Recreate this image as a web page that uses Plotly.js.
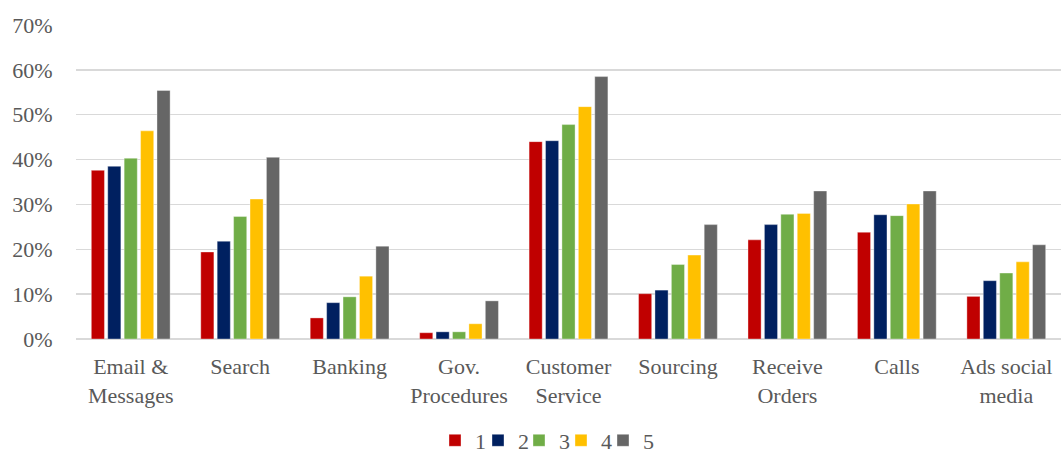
<!DOCTYPE html>
<html><head><meta charset="utf-8">
<script src="https://cdn.plot.ly/plotly-3.0.1.min.js"></script>
<style>html,body{margin:0;padding:0;background:#fff}#chart{width:1061px;height:454px}</style>
</head><body><div id="chart"></div>
<script>
const categories = ["Email &<br>Messages","Search","Banking","Gov.<br>Procedures","Customer<br>Service","Sourcing","Receive<br>Orders","Calls","Ads social<br>media"];
const seriesNames = ["1","2","3","4","5"];
const s1 = [0.376,0.194,0.047,0.014,0.440,0.101,0.221,0.238,0.095];
const s2 = [0.385,0.218,0.081,0.016,0.442,0.109,0.255,0.277,0.130];
const s3 = [0.403,0.273,0.094,0.016,0.478,0.166,0.278,0.275,0.147];
const s4 = [0.464,0.312,0.140,0.034,0.518,0.187,0.280,0.301,0.172];
const s5 = [0.554,0.405,0.207,0.085,0.585,0.255,0.330,0.330,0.210];
const yTicks = [0,0.1,0.2,0.3,0.4,0.5,0.6,0.7];
const colors = ["#C00000","#002060","#70AD47","#FFC000","#666666"];
const allSeries = [s1,s2,s3,s4,s5];
const legendIds = ['legend','legend2','legend3','legend4','legend5'];
const legendX = [447,490,531,573,615];
const traces = allSeries.map((v,i)=>({
  type:'bar', x:categories, y:v, name:seriesNames[i], legend:legendIds[i],
  marker:{color:colors[i], line:{color:'rgba(255,255,255,0.6)', width:0.6}},
  hoverinfo:'skip'
}));
const font = {family:'Liberation Serif', size:22, color:'#595959'};
const layout = {
  width:1061, height:454,
  margin:{l:76, r:0, t:25, b:115},
  paper_bgcolor:'#fff', plot_bgcolor:'#fff',
  barmode:'group', bargap:0.25, bargroupgap:0.2,
  font:font,
  showlegend:true,
  xaxis:{type:'category', tickfont:font, showgrid:false, zeroline:false, showline:false, ticks:'outside', ticklen:8, tickcolor:'rgba(0,0,0,0)', fixedrange:true},
  yaxis:{range:[0,0.7], tickvals:yTicks, tickformat:'.0%', tickfont:font, showgrid:true, gridcolor:'#d9d9d9', gridwidth:1.5, zeroline:true, zerolinecolor:'#d9d9d9', zerolinewidth:1.5, showline:false, ticks:'outside', ticklen:18, tickcolor:'rgba(0,0,0,0)', fixedrange:true}
};
legendIds.forEach((id,i)=>{
  layout[id] = {orientation:'h', xref:'container', x:legendX[i]/1061, xanchor:'left', yref:'container', y:0.0297, yanchor:'middle',
                font:font, itemwidth:30, indentation:-12, bgcolor:'rgba(0,0,0,0)'};
});
Plotly.newPlot('chart', traces, layout, {displayModeBar:false, staticPlot:true});
</script></body></html>
